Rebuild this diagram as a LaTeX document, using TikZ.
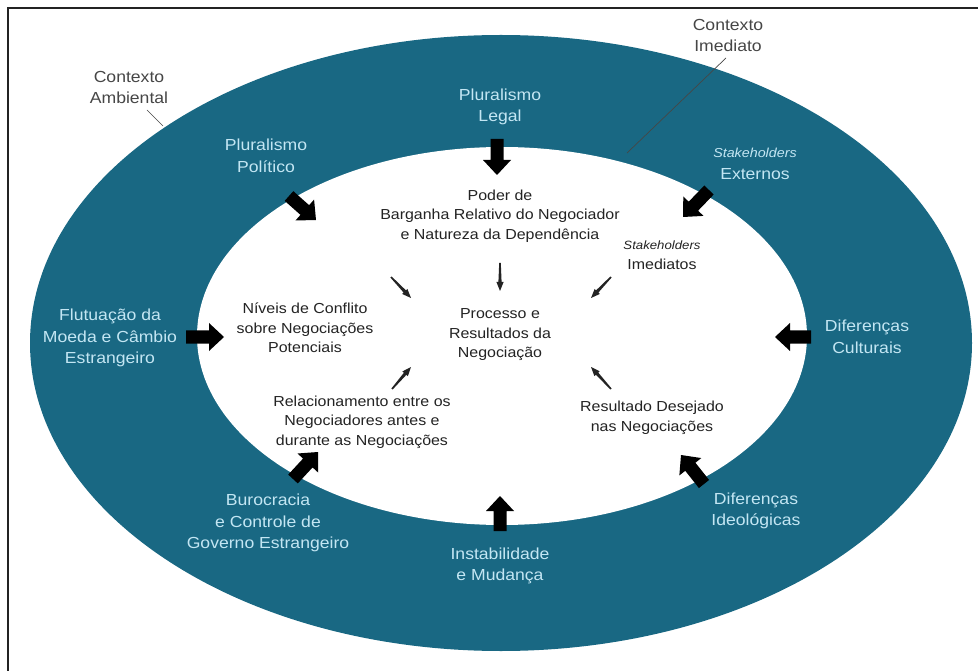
\documentclass[tikz,border=0pt]{standalone}
\usepackage{fontspec}
\setmainfont[FakeStretch=1.1]{Liberation Sans}
\usetikzlibrary{calc,arrows.meta}
\definecolor{band}{RGB}{25,104,131}
\definecolor{bandtxt}{RGB}{195,230,243}
\definecolor{ink}{RGB}{35,35,35}
\definecolor{ctxgray}{RGB}{70,70,70}
\newcommand\myblockarrow[2]{%
  \coordinate (ba-n) at ($(#2)!15pt!(#1)$);
  \fill[black] ($(#1)!6.5pt!90:(#2)$) -- ($(ba-n)!6.5pt!90:(#2)$) -- ($(ba-n)!14pt!90:(#2)$) -- (#2)
    -- ($(ba-n)!14pt!-90:(#2)$) -- ($(ba-n)!6.5pt!-90:(#2)$) -- ($(#1)!6.5pt!-90:(#2)$) -- cycle;}
\newcommand\myspike[2]{%
  \coordinate (sp-n) at ($(#2)!9pt!(#1)$);
  \fill[ink] ($(#1)!0.8pt!90:(#2)$) -- ($(sp-n)!1.6pt!90:(#2)$) -- ($(sp-n)!3.6pt!90:(#2)$) -- (#2)
    -- ($(sp-n)!3.6pt!-90:(#2)$) -- ($(sp-n)!1.6pt!-90:(#2)$) -- ($(#1)!0.8pt!-90:(#2)$) -- cycle;}
\begin{document}
\begin{tikzpicture}[x=1pt,y=-1pt,
  bandlbl/.style={text=bandtxt, font=\fontsize{16}{21.5}\selectfont, align=center, inner sep=0pt},
  innerlbl/.style={text=ink, font=\fontsize{14.5}{19.5}\selectfont, align=center, inner sep=0pt},
  ctxlbl/.style={text=ctxgray, font=\fontsize{16}{21}\selectfont, align=center, inner sep=0pt},
  leader/.style={draw=ctxgray, line width=0.7pt}]
\useasboundingbox (0,0) rectangle (978,671);
\fill[white] (0,0) rectangle (978,671);
\draw[ink, line width=1.2pt] (8,671) -- (8,8) -- (978,8);

% ellipses
\fill[band] (501,343) ellipse [x radius=471pt, y radius=308pt];
\fill[white] (502,336) ellipse [x radius=305pt, y radius=189pt];

% context labels and leaders
\node[ctxlbl] (ctxamb) at (129,87) {Contexto\\Ambiental};
\node[ctxlbl] (ctximed) at (728,35) {Contexto\\Imediato};
\coordinate (ambA) at (147,110);
\coordinate (ambB) at (163,126);
\draw[leader] (ambA) -- (ambB);
\coordinate (imA) at (726,58);
\coordinate (imB) at (627,153);
\draw[leader] (imA) -- (imB);

% band labels
\node[bandlbl] (legal) at (500,107) {Pluralismo\\Legal};
\node[bandlbl] (politico) at (266,156) {Pluralismo\\Político};
\node[bandlbl] (externos) at (755,164) {{\itshape\fontsize{13}{21.5}\selectfont Stakeholders}\\Externos};
\node[bandlbl] (flutuacao) at (110,338) {Flutuação da\\Moeda e Câmbio\\Estrangeiro};
\node[bandlbl] (culturais) at (867,337) {Diferenças\\Culturais};
\node[bandlbl] (burocracia) at (268,523) {Burocracia\\e Controle de\\Governo Estrangeiro};
\node[bandlbl] (instab) at (500,566) {Instabilidade\\e Mudança};
\node[bandlbl] (ideol) at (756,511) {Diferenças\\Ideológicas};

% inner labels
\node[innerlbl] (poder) at (500,216) {Poder de\\Barganha Relativo do Negociador\\e Natureza da Dependência};
\node[innerlbl] (imediatos) at (662,255) {{\itshape\fontsize{12}{19.5}\selectfont Stakeholders}\\Imediatos};
\node[innerlbl] (niveis) at (305,328) {Níveis de Conflito\\sobre Negociações\\Potenciais};
\node[innerlbl] (processo) at (500,335) {Processo e\\Resultados da\\Negociação};
\node[innerlbl] (relac) at (362,422) {Relacionamento entre os\\Negociadores antes e\\durante as Negociações};
\node[innerlbl] (desejado) at (652,418) {Resultado Desejado\\nas Negociações};

% big arrows
\coordinate (t1) at (497,139); \coordinate (h1) at (497,175);
\coordinate (t2) at (289,196); \coordinate (h2) at (316,220);
\coordinate (t3) at (709,190); \coordinate (h3) at (683,217);
\coordinate (t4) at (186,337); \coordinate (h4) at (224,337);
\coordinate (t5) at (811,337); \coordinate (h5) at (775,337);
\coordinate (t6) at (293,479); \coordinate (h6) at (318,452);
\coordinate (t7) at (500,531); \coordinate (h7) at (500,496);
\coordinate (t8) at (704,484); \coordinate (h8) at (681,455);
\myblockarrow{t1}{h1}
\myblockarrow{t2}{h2}
\myblockarrow{t3}{h3}
\myblockarrow{t4}{h4}
\myblockarrow{t5}{h5}
\myblockarrow{t6}{h6}
\myblockarrow{t7}{h7}
\myblockarrow{t8}{h8}

% small arrows
\coordinate (s1a) at (500,263); \coordinate (s1b) at (500,291);
\coordinate (s2a) at (391,277); \coordinate (s2b) at (411,298);
\coordinate (s3a) at (611,277); \coordinate (s3b) at (591,298);
\coordinate (s4a) at (392,389); \coordinate (s4b) at (411,367);
\coordinate (s5a) at (611,389); \coordinate (s5b) at (591,367);
\myspike{s1a}{s1b}
\myspike{s2a}{s2b}
\myspike{s3a}{s3b}
\myspike{s4a}{s4b}
\myspike{s5a}{s5b}
\end{tikzpicture}
\end{document}
